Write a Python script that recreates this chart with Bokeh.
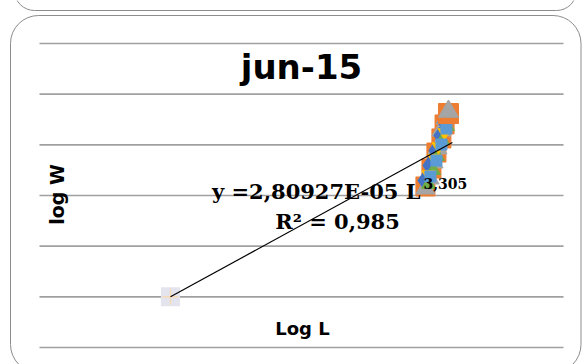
from math import pi
from bokeh.plotting import figure
from bokeh.models import Range1d, Label, BoxAnnotation
from bokeh.embed import file_html
from bokeh.resources import INLINE

# ---------------- data ----------------
title_text = "jun-15"
x_label = "Log L"
y_label = "log W"
eq_main = "y =2,80927E-05 L"
eq_exp = "3,305"
eq_r2 = "R² = 0,985"

grid_y = [0.0, 0.5, 1.0, 1.5, 2.0, 2.5, 3.0]
x_min, x_max = 0.0, 2.0
y_min, y_max = 0.0, 3.0

# outlier point
out_x = [0.50]
out_y = [0.50]

# cluster series
s1_x = [1.466, 1.485, 1.508, 1.527, 1.542]
s1_y = [1.648, 1.796, 1.944, 2.092, 2.220]
s5_x = [1.492, 1.515, 1.534, 1.553]
s5_y = [1.688, 1.845, 2.003, 2.161]
s6_x = [1.485, 1.504, 1.519, 1.538, 1.557]
s6_y = [1.609, 1.747, 1.885, 2.043, 2.181]
s4_x = [1.485, 1.508, 1.523, 1.546, 1.561]
s4_y = [1.707, 1.865, 1.984, 2.122, 2.240]
s2_x = [1.473, 1.496, 1.515, 1.534, 1.546, 1.561]
s2_y = [1.589, 1.766, 1.924, 2.063, 2.201, 2.309]
s3_x = [1.473, 1.489, 1.504, 1.519, 1.534, 1.550, 1.561]
s3_y = [1.569, 1.668, 1.826, 1.964, 2.141, 2.260, 2.329]

trend_x = [0.50, 1.576]
trend_y = [0.50, 2.023]

# ---------------- layout ----------------
OFF = 0
W, H = 584, 364
PL, PR, PT, PB = 39 - OFF, 563 - OFF, 43 - OFF, 347 - OFF
sx = (x_max - x_min) / (PR - PL)
sy = (y_max - y_min) / (PB - PT)
X0 = x_min - PL * sx
X1 = x_max + (W - PR) * sx
Y1 = y_max + PT * sy
Y0 = y_min - (H - PB) * sy


def px(ix):
    return x_min + (ix - OFF - PL) * sx


def py(iy):
    return y_max - (iy - OFF - PT) * sy


p = figure(width=W, height=H, output_backend="svg", toolbar_location=None,
           x_range=Range1d(X0, X1), y_range=Range1d(Y0, Y1),
           x_axis_location=None, y_axis_location=None,
           min_border=0, min_border_left=0, min_border_right=0,
           min_border_top=0, min_border_bottom=0)
p.outline_line_color = None
p.xgrid.visible = False
p.ygrid.visible = False
p.background_fill_color = "white"
p.border_fill_color = "white"

# rounded chart borders
p.add_layout(BoxAnnotation(left=px(14), right=px(576), top=py(-40), bottom=py(10),
                           fill_color=None, line_color="#8c8c8c", line_alpha=1.0,
                           line_width=1, border_radius=20, level="underlay"))
p.add_layout(BoxAnnotation(left=px(10), right=px(580.5), top=py(15), bottom=py(372),
                           fill_color=None, line_color="#8c8c8c", line_alpha=1.0,
                           line_width=1, border_radius=28, level="underlay"))

# gridlines
p.segment(x0=[x_min] * len(grid_y), x1=[x_max] * len(grid_y), y0=grid_y, y1=grid_y,
          line_color="#a0a0a0", line_width=1.6)

# outlier marker
p.scatter(out_x, out_y, marker="square", size=19, fill_color="#e4e4ee", line_color=None)
p.scatter(out_x, out_y, marker="cross", size=16, line_color="#f6dcb6", line_width=1.5)

# cluster (large orange / gray first, smaller coloured marks on top)
p.scatter(s2_x, s2_y, marker="square", size=19, fill_color="#ED7D31", line_color="#ED7D31")
p.scatter(s3_x, s3_y, marker="triangle", size=19, fill_color="#A5A5A5", line_color="#A5A5A5")
p.scatter(s1_x, s1_y, marker="diamond", size=17, fill_color="#4472C4", line_color="#4472C4")
p.scatter(s6_x, s6_y, marker="triangle", size=14, fill_color="#70AD47", line_color="#70AD47")
p.scatter(s4_x, s4_y, marker="inverted_triangle", size=13, fill_color="#FFC000", line_color="#FFC000")
p.scatter(s5_x, s5_y, marker="square", size=11, fill_color="#5B9BD5", line_color="#5B9BD5")
# top-most points sit above the rest
p.scatter(s2_x[-1:], s2_y[-1:], marker="square", size=20, fill_color="#ED7D31", line_color="#ED7D31")
p.scatter(s3_x[-1:], s3_y[-1:], marker="triangle", size=20, fill_color="#A5A5A5", line_color="#A5A5A5")

# trendline
p.line(trend_x, trend_y, line_color="black", line_width=1.2)

# texts
p.add_layout(Label(x=px(301), y=py(66), text=title_text, text_font="DejaVu Sans",
                   text_font_style="bold", text_font_size="34px", text_align="center",
                   text_baseline="alphabetic", text_color="black"))
p.add_layout(Label(x=px(302), y=py(328), text=x_label, text_font="DejaVu Sans",
                   text_font_style="bold", text_font_size="18px", text_align="center",
                   text_baseline="alphabetic", text_color="black"))
p.add_layout(Label(x=px(56), y=py(194), text=y_label, text_font="DejaVu Sans",
                   text_font_style="bold", text_font_size="19px", text_align="center",
                   text_baseline="middle", angle=pi / 2, text_color="black"))
p.add_layout(Label(x=px(420), y=py(191), text=eq_main, text_font="DejaVu Serif",
                   text_font_style="bold", text_font_size="21px", text_align="right",
                   text_baseline="alphabetic", text_color="black"))
p.add_layout(Label(x=px(423), y=py(183), text=eq_exp, text_font="DejaVu Serif",
                   text_font_style="bold", text_font_size="14px", text_align="left",
                   text_baseline="alphabetic", text_color="black"))
p.add_layout(Label(x=px(337), y=py(221), text=eq_r2, text_font="DejaVu Serif",
                   text_font_style="bold", text_font_size="21px", text_align="center",
                   text_baseline="alphabetic", text_color="black"))

open("out.html", "w").write(file_html(p, INLINE))
